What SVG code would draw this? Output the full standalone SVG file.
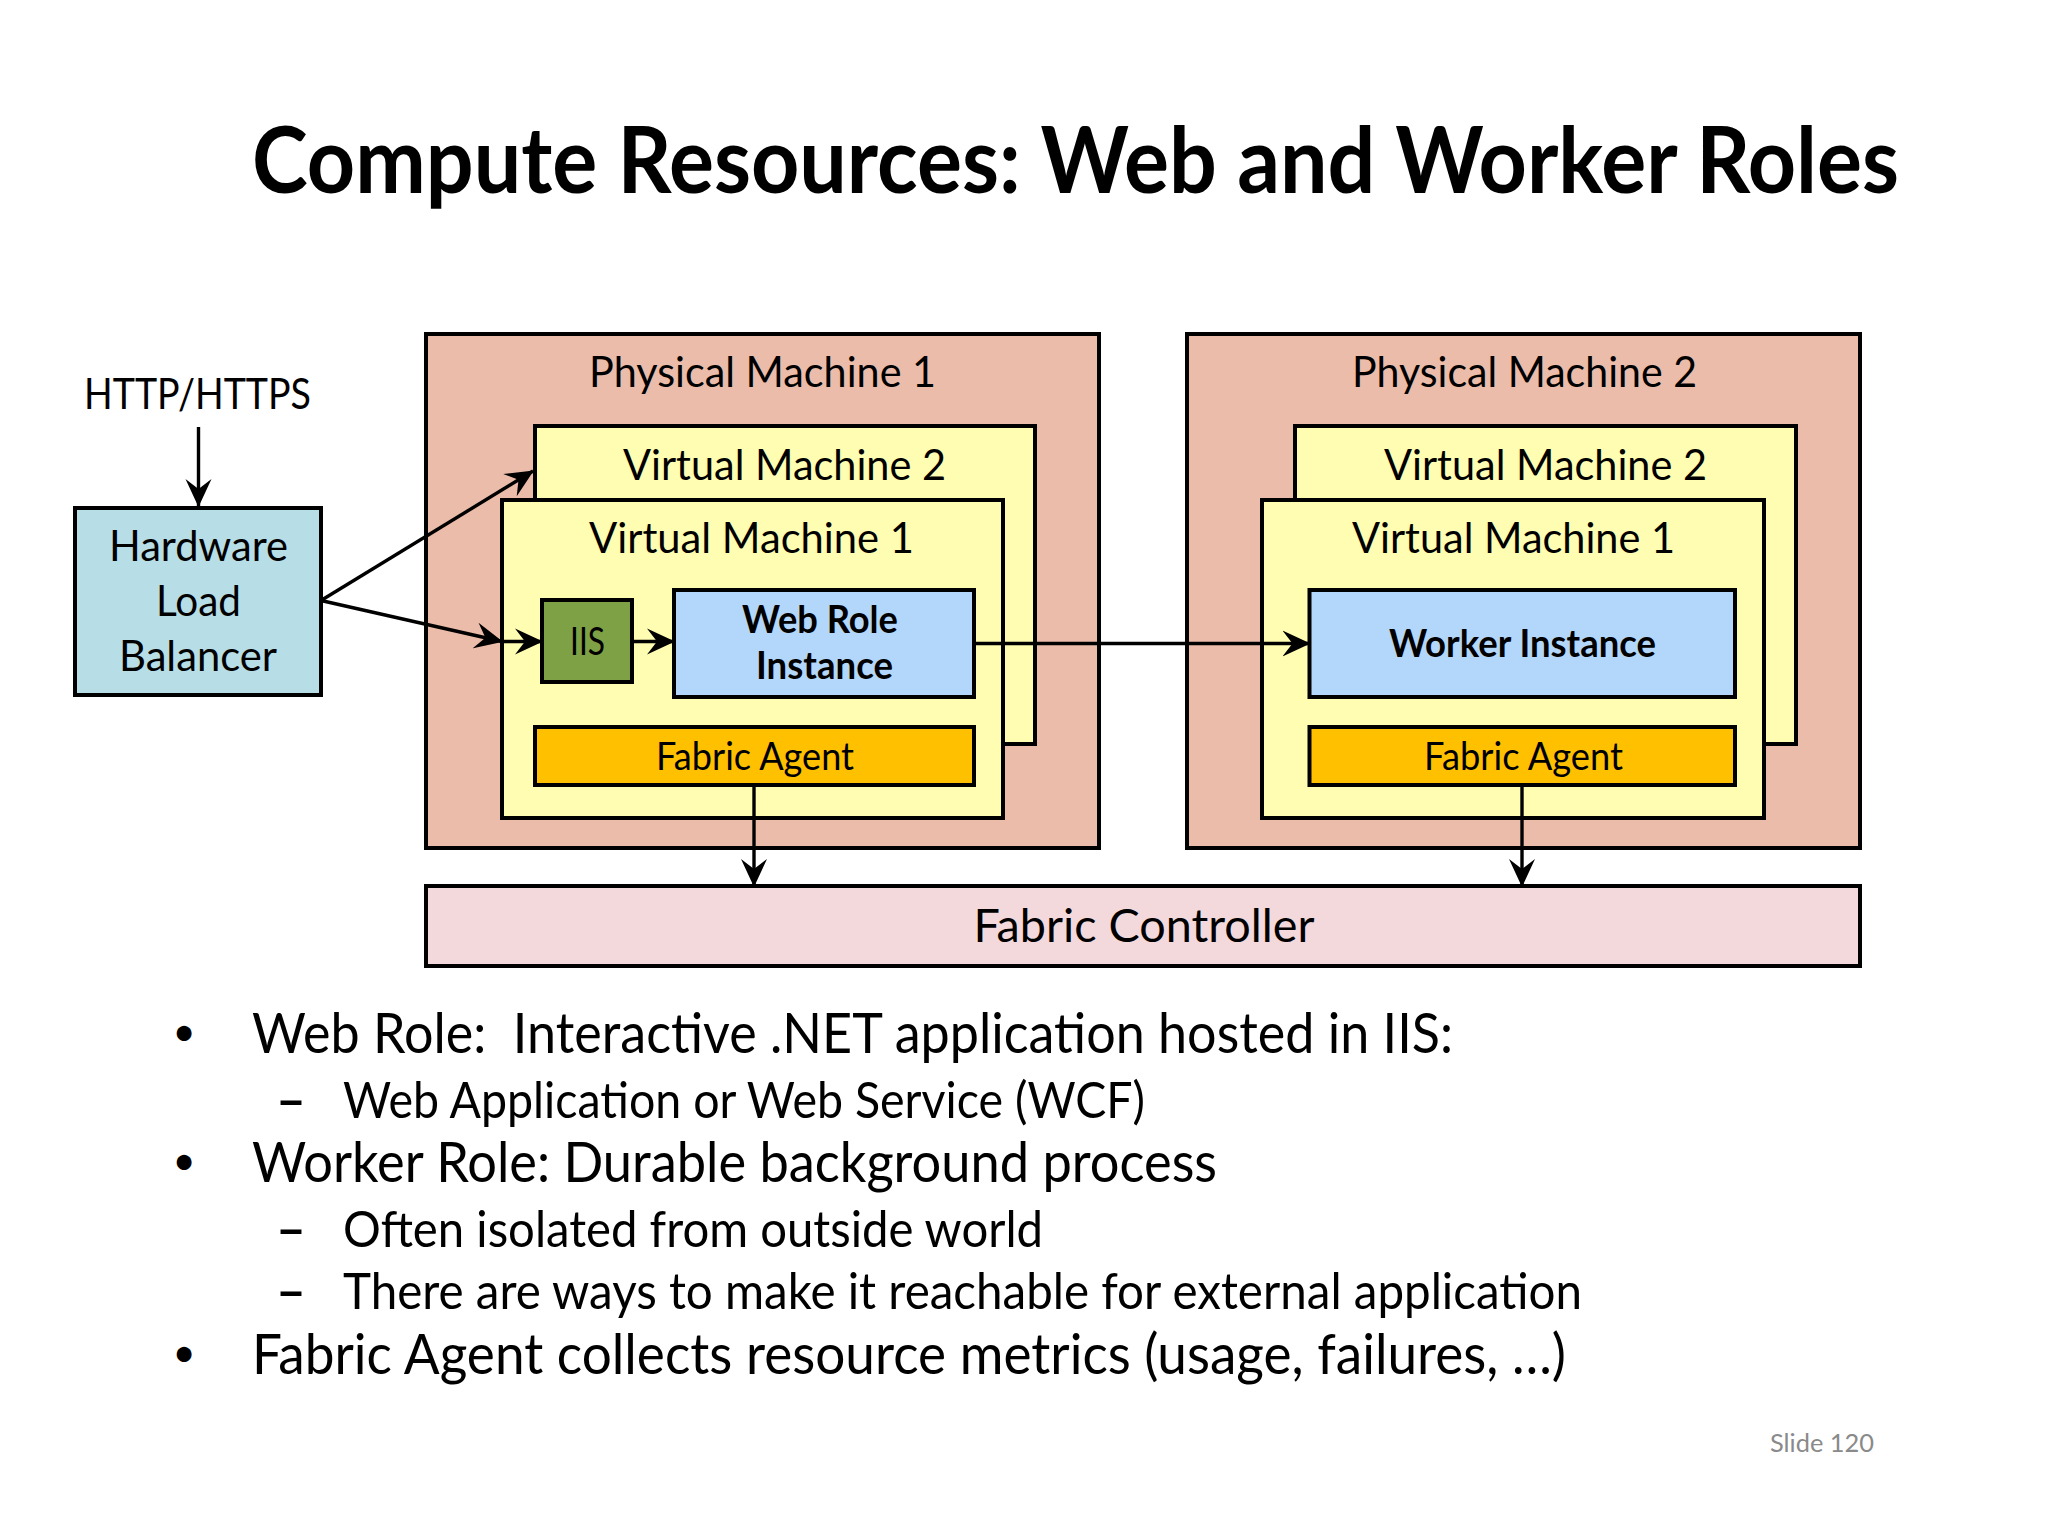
<svg xmlns="http://www.w3.org/2000/svg" width="2048" height="1536" viewBox="0 0 2048 1536">
<defs>
<style>
text{font-family:Lato,"Open Sans","Liberation Sans",sans-serif;fill:#000}
.lbl{font-size:43px}
.b{font-weight:bold}
.box{stroke:#000;stroke-width:4}
.pm{fill:#ebbca9}
.vm{fill:#fffdb1}
.fa{fill:#ffc000}
.inst{fill:#b3d7fb}
.con{stroke:#000;stroke-width:3.4;fill:none}
.bul{font-size:57px}
.dot{font-size:40px}
.sub{font-size:51px}
.dash{font-size:51px;font-weight:bold}
</style>
<marker id="arr" viewBox="0 0 28 28" refX="27" refY="14" markerWidth="28" markerHeight="28" orient="auto" markerUnits="userSpaceOnUse">
<path d="M0,1 L28,14 L0,27 L10,14 z" fill="#000"/>
</marker>
</defs>
<rect width="2048" height="1536" fill="#fff"/>

<text id="title" x="252" y="193" font-size="92" class="b" textLength="1647" lengthAdjust="spacingAndGlyphs">Compute Resources: Web and Worker Roles</text>

<g id="http"><text class="lbl" x="84" y="408.5" textLength="227" lengthAdjust="spacingAndGlyphs">HTTP/HTTPS</text></g>

<g id="hlb">
<rect class="box" x="75" y="508" width="246" height="187" fill="#b7dde7"/>
<text class="lbl" x="109" y="561" textLength="179" lengthAdjust="spacingAndGlyphs">Hardware</text>
<text class="lbl" x="156" y="615.6" textLength="85" lengthAdjust="spacingAndGlyphs">Load</text>
<text class="lbl" x="119" y="670.5" textLength="158" lengthAdjust="spacingAndGlyphs">Balancer</text>
</g>

<g id="pm1">
<rect class="box pm" x="426" y="334" width="673" height="514"/>
<text class="lbl" x="589" y="387" textLength="347" lengthAdjust="spacingAndGlyphs">Physical Machine 1</text>
</g>
<g id="pm1-vm2">
<rect class="box vm" x="535" y="426" width="500" height="318"/>
<text class="lbl" x="623" y="480" textLength="323" lengthAdjust="spacingAndGlyphs">Virtual Machine 2</text>
</g>
<g id="pm1-vm1">
<rect class="box vm" x="502" y="500" width="501" height="318"/>
<text class="lbl" x="589" y="553" textLength="325" lengthAdjust="spacingAndGlyphs">Virtual Machine 1</text>
</g>
<g id="iis">
<rect class="box" x="542" y="600" width="90" height="82" fill="#7fa145"/>
<text x="570" y="655" font-size="39" fill="#1f2a0c" textLength="35" lengthAdjust="spacingAndGlyphs">IIS</text>
</g>
<g id="webrole">
<rect class="box inst" x="674" y="590" width="300" height="107"/>
<text class="b" font-size="38" x="742" y="632.6" textLength="156" lengthAdjust="spacingAndGlyphs">Web Role</text>
<text class="b" font-size="38" x="756" y="679" textLength="137" lengthAdjust="spacingAndGlyphs">Instance</text>
</g>
<g id="fa1">
<rect class="box fa" x="535" y="727" width="439" height="58"/>
<text font-size="38" x="656" y="769.6" textLength="198" lengthAdjust="spacingAndGlyphs">Fabric Agent</text>
</g>

<g id="pm2">
<rect class="box pm" x="1187" y="334" width="673" height="514"/>
<text class="lbl" x="1352" y="387" textLength="345" lengthAdjust="spacingAndGlyphs">Physical Machine 2</text>
</g>
<g id="pm2-vm2">
<rect class="box vm" x="1295" y="426" width="501" height="318"/>
<text class="lbl" x="1384" y="480" textLength="323" lengthAdjust="spacingAndGlyphs">Virtual Machine 2</text>
</g>
<g id="pm2-vm1">
<rect class="box vm" x="1262" y="500" width="502" height="318"/>
<text class="lbl" x="1352" y="553" textLength="323" lengthAdjust="spacingAndGlyphs">Virtual Machine 1</text>
</g>
<g id="worker">
<rect class="box inst" x="1309.5" y="590" width="425.5" height="107"/>
<text class="b" font-size="38" x="1389" y="657" textLength="267" lengthAdjust="spacingAndGlyphs">Worker Instance</text>
</g>
<g id="fa2">
<rect class="box fa" x="1309.5" y="727" width="425.5" height="58"/>
<text font-size="38" x="1424" y="769.6" textLength="199" lengthAdjust="spacingAndGlyphs">Fabric Agent</text>
</g>

<g id="fc">
<rect class="box" x="426" y="886" width="1434" height="80" fill="#f3d9db"/>
<text font-size="46" x="973.5" y="942" textLength="341" lengthAdjust="spacingAndGlyphs">Fabric Controller</text>
</g>

<g id="connectors">
<line class="con" x1="198.5" y1="427" x2="198.5" y2="506" marker-end="url(#arr)"/>
<line class="con" x1="321" y1="600.5" x2="533" y2="471" marker-end="url(#arr)"/>
<line class="con" x1="321" y1="600.5" x2="502" y2="641.5" marker-end="url(#arr)"/>
<line class="con" x1="502" y1="641.5" x2="542" y2="641.5" marker-end="url(#arr)"/>
<line class="con" x1="632" y1="641.5" x2="674" y2="641.5" marker-end="url(#arr)"/>
<line class="con" x1="974" y1="643.5" x2="1309.5" y2="643.5" marker-end="url(#arr)"/>
<line class="con" x1="754" y1="785" x2="754" y2="886" marker-end="url(#arr)"/>
<line class="con" x1="1522" y1="785" x2="1522" y2="886" marker-end="url(#arr)"/>
</g>

<g id="bullets">
<text class="dot" x="184" y="1046" text-anchor="middle">•</text>
<text class="bul" x="252" y="1053" style="white-space:pre" textLength="1201" lengthAdjust="spacingAndGlyphs">Web Role:  Interactive .NET application hosted in IIS:</text>
<text class="dash" x="276" y="1118" textLength="30" lengthAdjust="spacingAndGlyphs">–</text>
<text class="sub" x="343" y="1118" textLength="802" lengthAdjust="spacingAndGlyphs">Web Application or Web Service (WCF)</text>
<text class="dot" x="184" y="1175" text-anchor="middle">•</text>
<text class="bul" x="252" y="1182" textLength="965" lengthAdjust="spacingAndGlyphs">Worker Role: Durable background process</text>
<text class="dash" x="276" y="1247" textLength="30" lengthAdjust="spacingAndGlyphs">–</text>
<text class="sub" x="343" y="1247" textLength="700" lengthAdjust="spacingAndGlyphs">Often isolated from outside world</text>
<text class="dash" x="276" y="1309" textLength="30" lengthAdjust="spacingAndGlyphs">–</text>
<text class="sub" x="343" y="1309" textLength="1239" lengthAdjust="spacingAndGlyphs">There are ways to make it reachable for external application</text>
<text class="dot" x="184" y="1367" text-anchor="middle">•</text>
<text class="bul" x="252" y="1374" textLength="1314" lengthAdjust="spacingAndGlyphs">Fabric Agent collects resource metrics (usage, failures, …)</text>
</g>

<text id="slidenum" x="1770" y="1452" font-size="25" style="fill:#8a8a8a" textLength="104" lengthAdjust="spacingAndGlyphs">Slide 120</text>
</svg>
